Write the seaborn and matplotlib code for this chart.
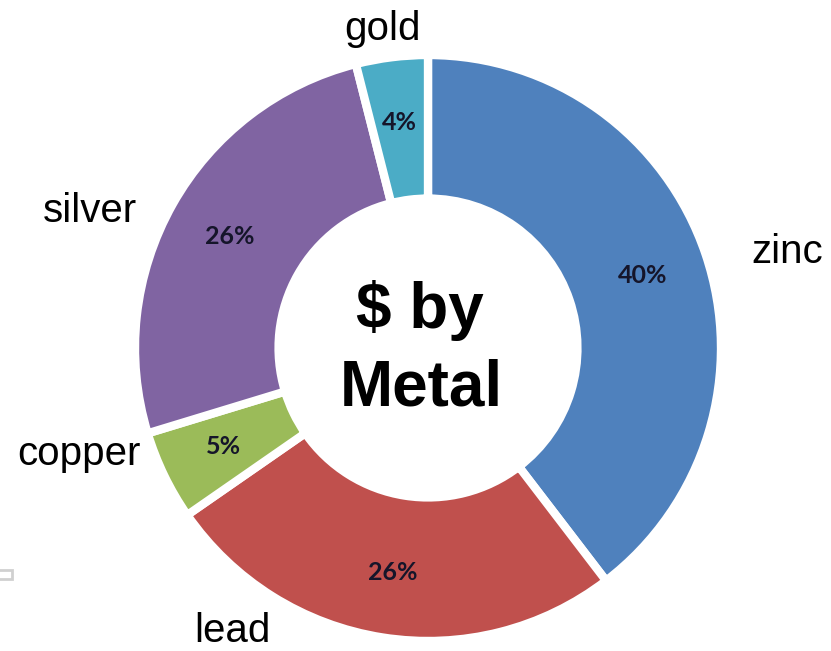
import seaborn as sns
import matplotlib.pyplot as plt
from matplotlib.patches import Rectangle

# data
metals = ["zinc", "lead", "copper", "silver", "gold"]
shares = [40, 26, 5, 26, 4]
colors = ["#4F81BD", "#C0504D", "#9BBB59", "#8064A2", "#4BACC6"]

# label placement in pixels (x, baseline y measured from top)
label_pos = [(787, 263), (232, 642), (79, 465), (90, 222), (383, 40)]

W, H = 831, 651
sns.set_theme(style="white")
plt.rcParams["font.family"] = ["Liberation Sans", "DejaVu Sans"]

fig = plt.figure(figsize=(W / 100, H / 100), dpi=100)
ax = fig.add_axes([0, 0, 1, 1])

cx, cy, R = 428, H - 348, 293
wedges, texts, autotexts = ax.pie(
    shares,
    colors=colors,
    startangle=90,
    counterclock=False,
    center=(cx, cy),
    radius=R,
    autopct=lambda p: f"{round(p)}%",
    pctdistance=0.775,
    wedgeprops=dict(width=R * 0.49, edgecolor="white", linewidth=6),
    textprops=dict(family=["Lato", "DejaVu Sans"], fontsize=18,
                   fontweight="bold", color="#15152a"),
)

# outside category labels
for name, (x, y) in zip(metals, label_pos):
    ax.text(x, H - y, name, ha="center", va="baseline", fontsize=29, color="black")

# centre title
ax.text(420, H - 328, "$ by", ha="center", va="baseline", fontsize=46,
        fontweight="bold", color="black")
ax.text(421, H - 405, "Metal", ha="center", va="baseline", fontsize=46,
        fontweight="bold", color="black")

# small grey box at left edge
ax.add_patch(Rectangle((-2, H - 579), 14, 9, fill=False, edgecolor="#d0d0d0", linewidth=2))

ax.set_xlim(0, W)
ax.set_ylim(0, H)
ax.set_aspect("equal")
ax.axis("off")

fig.savefig("out.png", dpi=100, facecolor="white")
